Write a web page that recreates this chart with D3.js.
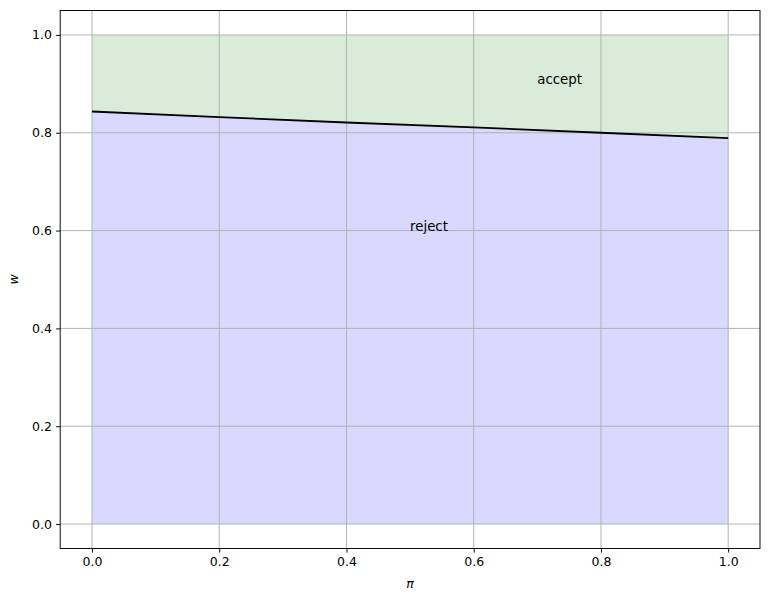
<!DOCTYPE html>
<html>
<head>
<meta charset="utf-8">
<script src="https://cdn.jsdelivr.net/npm/d3@7"></script>
<style>
  body { margin: 0; background: #fff; }
  text { font-family: "DejaVu Sans", sans-serif; }
</style>
</head>
<body>
<div id="chart"></div>
<script>
// reservation wage
const piValues = [0.0, 0.2, 0.4, 0.6, 0.8, 1.0];
const wBar = [0.8435, 0.832, 0.821, 0.811, 0.800, 0.789];
const tickValues = [0.0, 0.2, 0.4, 0.6, 0.8, 1.0];
const regionLabels = [
    { text: "accept", x: 0.7, y: 0.9 },
    { text: "reject", x: 0.5, y: 0.6 }
];

const svgWidth = 768;
const svgHeight = 602;
const margin = { top: 10.5, right: 8, bottom: 53.5, left: 60.2 };
const width = svgWidth - margin.left - margin.right;
const height = svgHeight - margin.top - margin.bottom;

const svg = d3.select("#chart")
    .append("svg")
    .attr("width", svgWidth)
    .attr("height", svgHeight);

const chartGroup = svg.append("g")
    .attr("transform", `translate(${margin.left}, ${margin.top})`);

const x = d3.scaleLinear().domain([-0.05, 1.05]).range([0, width]);
const y = d3.scaleLinear().domain([-0.05, 1.05]).range([height, 0]);

const data = piValues.map((p, i) => ({ pi: p, w: wBar[i] }));

// accept region (above the line)
chartGroup.append("path")
    .datum(data)
    .attr("fill", "#d9ecd9")
    .attr("d", d3.area().x(d => x(d.pi)).y0(d => y(d.w)).y1(y(1)));

// reject region (below the line)
chartGroup.append("path")
    .datum(data)
    .attr("fill", "#d9d9ff")
    .attr("d", d3.area().x(d => x(d.pi)).y0(y(0)).y1(d => y(d.w)));

// grid lines
chartGroup.append("g")
    .selectAll("line.vgrid")
    .data(tickValues)
    .enter()
    .append("line")
    .attr("x1", d => x(d)).attr("x2", d => x(d))
    .attr("y1", 0).attr("y2", height)
    .attr("stroke", "#b0b0b0").attr("stroke-width", 0.95);

chartGroup.append("g")
    .selectAll("line.hgrid")
    .data(tickValues)
    .enter()
    .append("line")
    .attr("y1", d => y(d)).attr("y2", d => y(d))
    .attr("x1", 0).attr("x2", width)
    .attr("stroke", "#b0b0b0").attr("stroke-width", 0.95);

// the reservation wage line
chartGroup.append("path")
    .datum(data)
    .attr("fill", "none")
    .attr("stroke", "#000")
    .attr("stroke-width", 1.8)
    .attr("d", d3.line().x(d => x(d.pi)).y(d => y(d.w)));

// region labels
chartGroup.selectAll("text.region")
    .data(regionLabels)
    .enter()
    .append("text")
    .attr("x", d => x(d.x))
    .attr("y", d => y(d.y))
    .attr("font-size", "13.3px")
    .attr("fill", "#000")
    .text(d => d.text);

// axes
const bottomAxis = d3.axisBottom(x).tickValues(tickValues).tickFormat(d3.format(".1f"))
    .tickSizeInner(4.1).tickSizeOuter(0).tickPadding(4.1);
const leftAxis = d3.axisLeft(y).tickValues(tickValues).tickFormat(d3.format(".1f"))
    .tickSizeInner(4.1).tickSizeOuter(0).tickPadding(4.1);

const xAxis = chartGroup.append("g")
    .attr("transform", `translate(0, ${height})`)
    .call(bottomAxis);
const yAxis = chartGroup.append("g").call(leftAxis);

[xAxis, yAxis].forEach(a => {
    a.selectAll("text").attr("font-size", "12.5px").attr("fill", "#000")
        .attr("font-family", "DejaVu Sans, sans-serif");
    a.selectAll("line").attr("stroke", "#000").attr("stroke-width", 0.95);
    a.select(".domain").remove();
});

// spines
chartGroup.append("rect")
    .attr("x", 0).attr("y", 0)
    .attr("width", width).attr("height", height)
    .attr("fill", "none")
    .attr("stroke", "#000")
    .attr("stroke-width", 0.95);

// axis labels
chartGroup.append("text")
    .attr("x", width / 2)
    .attr("y", height + 39)
    .attr("text-anchor", "middle")
    .attr("font-size", "12.5px")
    .attr("font-style", "italic")
    .text("π");

chartGroup.append("text")
    .attr("transform", "rotate(-90)")
    .attr("x", -height / 2)
    .attr("y", -42)
    .attr("text-anchor", "middle")
    .attr("font-size", "12.5px")
    .attr("font-style", "italic")
    .text("w");
</script>
</body>
</html>
